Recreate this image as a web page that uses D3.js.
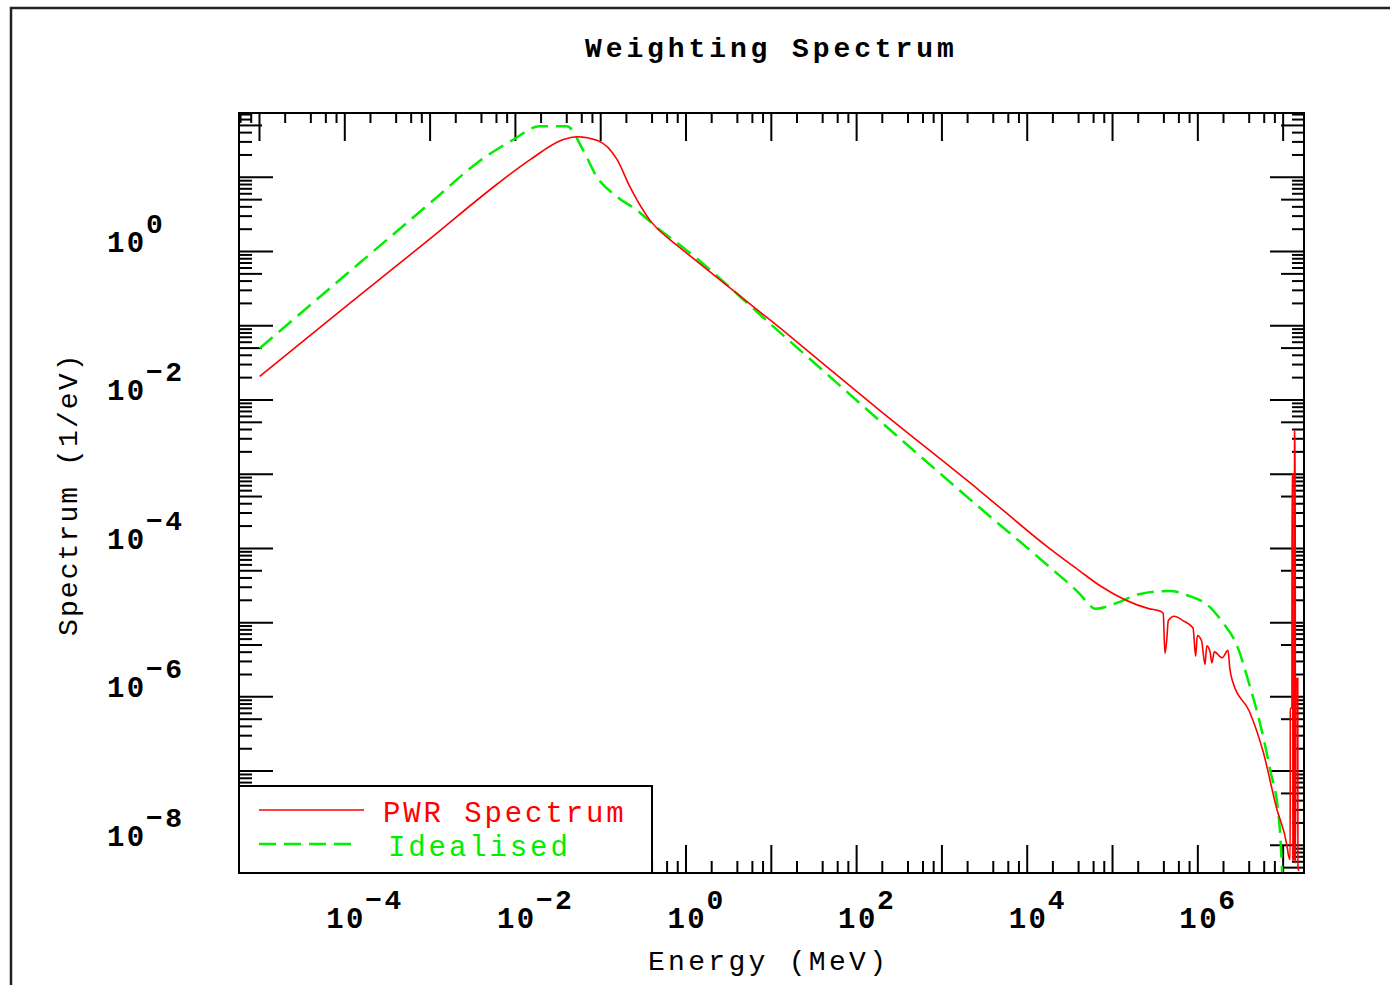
<!DOCTYPE html>
<meta charset="utf-8">

<!-- Load d3.js -->
<script src="https://d3js.org/d3.v7.min.js"></script>
<style>
  body { margin: 0; background: #fff; }
  text { font-family: "Liberation Mono", "DejaVu Sans Mono", monospace; }
</style>

<div id="my_dataviz"></div>
<script>
// PWR spectrum, energy (MeV) and value (1/eV)
var pwrEnergy = [1.02e-5, 1.175e-4, 1.0e-3, 6.17e-3, 1.51e-2, 3.63e-2, 5.37e-2, 9.33e-2, 0.158, 0.224,
  0.380, 0.661, 0.851, 12.6, 190.5, 2818, 1.86e4, 4.17e4, 7.24e4, 2.75e5,
  3.63e5, 3.98e5, 4.17e5, 4.37e5, 4.57e5, 5.37e5, 6.76e5, 8.91e5, 9.55e5, 1.0e6,
  1.12e6, 1.23e6, 1.29e6, 1.41e6, 1.48e6, 1.58e6, 1.95e6, 2.29e6, 2.40e6, 2.63e6,
  4.07e6, 5.89e6, 8.51e6, 1.12e7, 1.175e7, 1.225e7, 1.23e7, 1.285e7, 1.29e7, 1.315e7,
  1.32e7, 1.375e7, 1.38e7, 1.405e7, 1.41e7, 1.445e7, 1.505e7, 1.51e7, 1.55e7]
var pwrValue = [2.04e-2, 0.200, 1.445, 7.94, 17.0, 31.6, 34.7, 30.9, 17.0, 7.24,
  2.63, 1.41, 1.12, 9.33e-2, 7.08e-3, 5.89e-4, 9.77e-5, 4.90e-5, 3.09e-5, 1.51e-5,
  1.41e-5, 1.32e-5, 3.80e-6, 5.62e-6, 1.05e-5, 1.20e-5, 1.05e-5, 8.32e-6, 3.47e-6, 6.61e-6,
  5.62e-6, 2.69e-6, 4.79e-6, 3.98e-6, 2.82e-6, 3.98e-6, 3.31e-6, 4.17e-6, 2.40e-6, 1.51e-6,
  6.31e-7, 1.82e-7, 3.09e-8, 1.0e-8, 7.08e-9, 6.31e-9, 6.92e-7, 6.92e-7, 1.0e-3, 1.0e-3,
  6.31e-9, 6.31e-9, 3.72e-3, 3.72e-3, 5.62e-9, 1.74e-6, 1.74e-6, 5.01e-9, 4.47e-9]

// Idealised spectrum
var idealEnergy = [1.02e-5, 4.79e-5, 4.17e-4, 1.23e-3, 3.63e-3, 9.55e-3, 1.95e-2, 4.07e-2, 6.31e-2, 9.12e-2,
  0.158, 0.269, 0.457, 0.933, 12.6, 190.5, 2818, 1.86e4, 4.17e4, 5.01e4,
  6.31e4, 1.15e5, 2.14e5, 4.79e5, 8.13e5, 1.29e6, 2.0e6, 2.88e6, 4.07e6, 5.37e6,
  7.08e6, 9.12e6, 1.0e7]
var idealValue = [4.90e-2, 0.224, 1.86, 5.37, 15.5, 31.6, 47.9, 47.9, 22.9, 10.0,
  5.37, 3.55, 2.09, 1.12, 8.13e-2, 5.13e-3, 3.47e-4, 5.50e-5, 2.40e-5, 1.91e-5,
  1.51e-5, 1.82e-5, 2.40e-5, 2.63e-5, 2.24e-5, 1.74e-5, 9.77e-6, 5.01e-6, 1.45e-6, 4.57e-7,
  1.07e-7, 2.04e-8, 3.16e-9]

// tick labels (powers of ten) and legend names
var xLabelPowers = [-4, -2, 0, 2, 4, 6]
var yLabelPowers = [0, -2, -4, -6, -8]
var legendNames = ["PWR Spectrum", "Idealised"]

var width = 1390
var height = 985
// plot box (note: "top" is reserved on window, so use own names)
var boxLeft = 239, boxRight = 1304, boxTop = 113, boxBottom = 873

var svg = d3.select("#my_dataviz")
  .append("svg")
  .attr("width", width)
  .attr("height", height)

// outer frame
svg.append("rect")
  .attr("x", 11).attr("y", 8)
  .attr("width", width + 20).attr("height", height + 20)
  .attr("fill", "none")
  .attr("stroke", "#222")
  .attr("stroke-width", 2.5)

// log scales
var x = d3.scaleLog()
  .domain([5.83e-6, 1.78e7])
  .range([boxLeft, boxRight])
var y = d3.scaleLog()
  .domain([72.4, 4.17e-9])
  .range([boxTop, boxBottom])

// tick values: decades, and in-between marks
function inDomain(v, s) {
  var d = s.domain()
  return v >= Math.min(d[0], d[1]) && v <= Math.max(d[0], d[1])
}
function multiples(s, lo, hi, mults) {
  var out = []
  for (var e = lo; e <= hi; e++) {
    mults.forEach(function(m) {
      var v = m * Math.pow(10, e)
      if (inDomain(v, s)) out.push(v)
    })
  }
  return out
}
var xMajor = multiples(x, -6, 7, [1])
var xMinor = multiples(x, -6, 7, [2, 4, 6, 8])
var yMajor = multiples(y, -9, 1, [1])
var yMid = multiples(y, -9, 1, [5])
var yMinor = multiples(y, -9, 1, [2, 3, 4, 6, 7, 8, 9])

function drawAxis(axis, tx, ty) {
  var g = svg.append("g")
    .attr("transform", "translate(" + tx + "," + ty + ")")
    .call(axis)
  g.select(".domain").remove()
  g.selectAll(".tick line").attr("stroke", "#000").attr("stroke-width", 2)
  g.selectAll(".tick text").remove()
}

// bottom & top x ticks
drawAxis(d3.axisTop(x).tickValues(xMajor).tickSize(28).tickFormat(""), 0, boxBottom)
drawAxis(d3.axisTop(x).tickValues(xMinor).tickSize(12).tickFormat(""), 0, boxBottom)
drawAxis(d3.axisBottom(x).tickValues(xMajor).tickSize(28).tickFormat(""), 0, boxTop)
drawAxis(d3.axisBottom(x).tickValues(xMinor).tickSize(10).tickFormat(""), 0, boxTop)

// left & right y ticks
drawAxis(d3.axisRight(y).tickValues(yMajor).tickSize(34).tickFormat(""), boxLeft, 0)
drawAxis(d3.axisRight(y).tickValues(yMid).tickSize(23).tickFormat(""), boxLeft, 0)
drawAxis(d3.axisRight(y).tickValues(yMinor).tickSize(13).tickFormat(""), boxLeft, 0)
drawAxis(d3.axisLeft(y).tickValues(yMajor).tickSize(34).tickFormat(""), boxRight, 0)
drawAxis(d3.axisLeft(y).tickValues(yMid).tickSize(23).tickFormat(""), boxRight, 0)
drawAxis(d3.axisLeft(y).tickValues(yMinor).tickSize(12).tickFormat(""), boxRight, 0)

// clip the curves to the plot box
svg.append("clipPath").attr("id", "plotclip")
  .append("rect")
  .attr("x", boxLeft).attr("y", boxTop)
  .attr("width", boxRight - boxLeft).attr("height", boxBottom - boxTop)

var line = d3.line()
  .curve(d3.curveMonotoneX)
  .x(function(d) { return x(d[0]) })
  .y(function(d) { return y(d[1]) })

var ideal = d3.zip(idealEnergy, idealValue)
var pwr = d3.zip(pwrEnergy, pwrValue)

svg.append("path")
  .datum(ideal)
  .attr("clip-path", "url(#plotclip)")
  .attr("d", line)
  .attr("fill", "none")
  .attr("stroke", "#00ee00")
  .attr("stroke-width", 2.5)
  .attr("stroke-dasharray", "17,8")

svg.append("path")
  .datum(pwr)
  .attr("clip-path", "url(#plotclip)")
  .attr("d", line)
  .attr("fill", "none")
  .attr("stroke", "#ff0000")
  .attr("stroke-width", 1.6)

// plot border
svg.append("rect")
  .attr("x", boxLeft).attr("y", boxTop)
  .attr("width", boxRight - boxLeft).attr("height", boxBottom - boxTop)
  .attr("fill", "none")
  .attr("stroke", "#000")
  .attr("stroke-width", 2)

// x tick labels: 10 with a raised power
xLabelPowers.forEach(function(p) {
  var cx = x(Math.pow(10, p))
  svg.append("text")
    .attr("x", cx - 18).attr("y", 928)
    .attr("font-size", 29).attr("font-weight", "bold")
    .attr("letter-spacing", 2.4)
    .text("10")
  svg.append("text")
    .attr("x", cx + 21).attr("y", 909)
    .attr("font-size", 28).attr("font-weight", "bold")
    .attr("letter-spacing", 2.4)
    .text(p < 0 ? "\u2212" + (-p) : p)
})

// y tick labels
yLabelPowers.forEach(function(p) {
  var cy = y(Math.pow(10, p))
  svg.append("text")
    .attr("x", 107).attr("y", cy + 1)
    .attr("font-size", 29).attr("font-weight", "bold")
    .attr("letter-spacing", 2.4)
    .text("10")
  svg.append("text")
    .attr("x", 146).attr("y", cy - 18)
    .attr("font-size", 28).attr("font-weight", "bold")
    .attr("letter-spacing", 2.4)
    .text(p < 0 ? "\u2212" + (-p) : p)
})

// title and axis titles
svg.append("text")
  .attr("x", 585).attr("y", 57)
  .attr("font-size", 28).attr("font-weight", "bold")
  .attr("letter-spacing", 3.9)
  .text("Weighting Spectrum")

svg.append("text")
  .attr("x", 648).attr("y", 970)
  .attr("font-size", 28)
  .attr("letter-spacing", 3.3)
  .text("Energy (MeV)")

svg.append("text")
  .attr("transform", "translate(77,636) rotate(-90)")
  .attr("font-size", 28)
  .attr("letter-spacing", 2.1)
  .text("Spectrum (1/eV)")

// legend box
var legend = svg.append("g")
legend.append("rect")
  .attr("x", boxLeft).attr("y", 786)
  .attr("width", 413).attr("height", boxBottom - 786)
  .attr("fill", "#fff")
  .attr("stroke", "#000")
  .attr("stroke-width", 2)

var legendColors = ["#ff0000", "#00ee00"]
var legendDash = [null, "17,8"]
var legendY = [810, 844]
legendNames.forEach(function(name, i) {
  legend.append("line")
    .attr("x1", 259).attr("x2", i == 0 ? 364 : 358)
    .attr("y1", legendY[i]).attr("y2", legendY[i])
    .attr("stroke", legendColors[i])
    .attr("stroke-width", i == 0 ? 1.6 : 2.5)
    .attr("stroke-dasharray", legendDash[i])
  legend.append("text")
    .attr("x", i == 0 ? 383 : 388).attr("y", legendY[i] + 12)
    .attr("font-size", 29)
    .attr("letter-spacing", 2.9)
    .attr("fill", legendColors[i])
    .text(name)
})
</script>
